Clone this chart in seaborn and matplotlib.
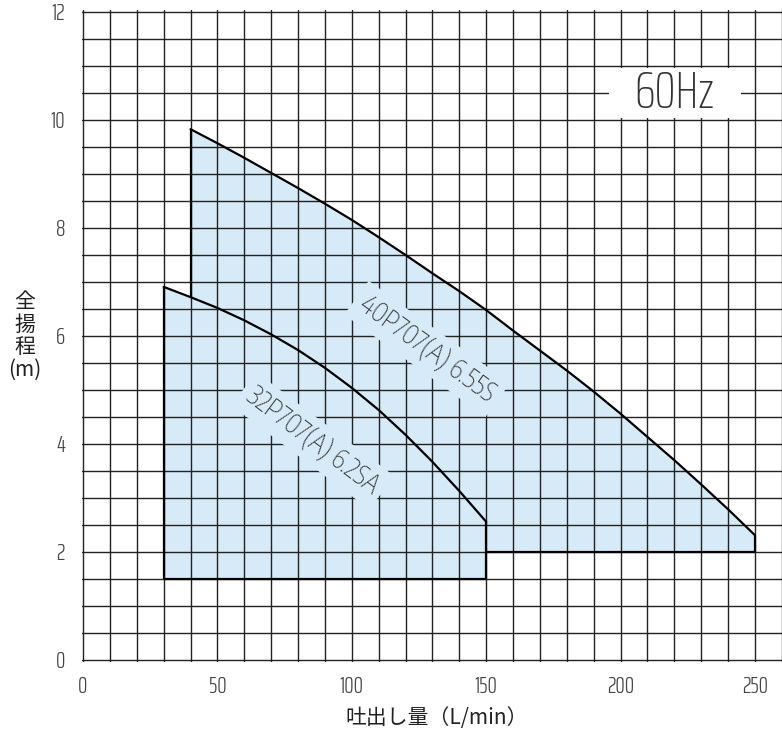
import numpy as np
import pandas as pd
import seaborn as sns
import matplotlib
matplotlib.use("Agg")
import matplotlib.pyplot as plt
from matplotlib.patches import Rectangle

# pump performance ranges (60 Hz)
flow_32 = [30, 40, 50, 60, 70, 80, 90, 100, 110, 120, 130, 140, 150]
head_32 = [6.91, 6.72, 6.52, 6.29, 6.03, 5.74, 5.41, 5.04, 4.63, 4.17, 3.67, 3.13, 2.56]
min_head_32 = 1.5
label_32 = "32P707(A) 6.2SA"

flow_40 = [40, 50, 60, 70, 80, 90, 100, 110, 120, 130, 140, 150,
           160, 170, 180, 190, 200, 210, 220, 230, 240, 250]
head_40 = [9.83, 9.57, 9.30, 9.02, 8.74, 8.45, 8.15, 7.83, 7.50, 7.16, 6.83, 6.48,
           6.10, 5.73, 5.36, 4.97, 4.56, 4.13, 3.70, 3.25, 2.79, 2.31]
min_head_40 = 2.0
label_40 = "40P707(A) 6.55S"

x_ticks = [0, 50, 100, 150, 200, 250]
y_ticks = [0, 2, 4, 6, 8, 10, 12]
freq_label = "60Hz"
x_label = "吐出し量（L/min）"
y_label = "全\n揚\n程\n(m)"

fill_c = "#d6eaf7"
ink = "#222222"

sns.set_style("white")
narrow = ["Saira ExtraCondensed", "Roboto Condensed", "DejaVu Sans"]
label_font = ["Encode Sans Condensed", "Roboto Condensed", "DejaVu Sans"]
cjk = ["Noto Sans CJK JP", "DejaVu Sans"]

W, H = 782, 736
fig = plt.figure(figsize=(W / 100, H / 100), dpi=100)
# axes placed so that x=0 -> 83px, y=0 -> 660px
px_x, px_y = 2.712, 54.0
x0, x1 = -0.5, 257.7
y0, y1 = -0.03, 12.03
left = (83 + x0 * px_x) / W
bottom = (H - (660 - y0 * px_y)) / H
ax = fig.add_axes([left, bottom, (x1 - x0) * px_x / W, (y1 - y0) * px_y / H])
ax.set_xlim(x0, x1)
ax.set_ylim(y0, y1)

df32 = pd.DataFrame({"flow": flow_32, "head": head_32})
df40 = pd.DataFrame({"flow": flow_40, "head": head_40})

ax.fill_between(flow_32, min_head_32, head_32, color=fill_c, lw=0, zorder=1)
ax.fill_between(flow_40, min_head_40, head_40, color=fill_c, lw=0, zorder=1)

# grid
ax.set_xticks(x_ticks)
ax.set_yticks(y_ticks)
ax.set_xticks(np.arange(0, 261, 10), minor=True)
ax.set_yticks(np.arange(0, 12.01, 0.5), minor=True)
ax.set_axisbelow(False)
ax.grid(which="both", color=ink, lw=1.0)
ax.tick_params(which="minor", length=0)
ax.tick_params(which="major", direction="out", length=8, width=1, color=ink,
               labelsize=17, labelcolor="#444444")
ax.tick_params(axis="x", pad=2)
ax.tick_params(axis="y", pad=4)
for lab in ax.get_xticklabels() + ax.get_yticklabels():
    lab.set_fontfamily(narrow)
    lab.set_fontweight(300)
for s in ax.spines.values():
    s.set_visible(False)

# outlines
sns.lineplot(data=df32, x="flow", y="head", color="black", lw=1.6, ax=ax, zorder=5)
sns.lineplot(data=df40, x="flow", y="head", color="black", lw=1.6, ax=ax, zorder=5)
ax.vlines(flow_32[0], min_head_32, head_32[0], color="black", lw=1.6, zorder=5)
ax.vlines(flow_32[-1], min_head_32, head_32[-1], color="black", lw=1.6, zorder=5)
ax.hlines(min_head_32, flow_32[0], flow_32[-1], color="black", lw=1.6, zorder=5)
ax.vlines(flow_40[0], head_32[1], head_40[0], color="black", lw=1.6, zorder=5)
ax.vlines(flow_40[-1], min_head_40, head_40[-1], color="black", lw=1.6, zorder=5)
ax.hlines(min_head_40, flow_32[-1], flow_40[-1], color="black", lw=1.6, zorder=5)
ax.set_xlabel("")
ax.set_ylabel("")

# curve labels
box = dict(facecolor=fill_c, edgecolor="none", pad=5)
ax.text(85.5, 4.06, label_32, rotation=-37, rotation_mode="anchor", ha="center", va="center",
        fontsize=19, family=label_font, fontweight=200, color="#333333", bbox=box, zorder=4)
ax.text(128, 5.76, label_40, rotation=-36, rotation_mode="anchor", ha="center", va="center",
        fontsize=19, family=label_font, fontweight=200, color="#333333", bbox=box, zorder=4)

# frequency tag
ax.add_patch(Rectangle((195.5, 10.03), 49.3, 0.94, facecolor="white", edgecolor="none", zorder=4))
ax.text(220, 10.5, freq_label, ha="center", va="center", fontsize=38, family=narrow,
        fontweight=250, color="#333333", zorder=5)

fig.text(25 / W, 1 - 336 / H, y_label, ha="center", va="center", fontsize=15,
         family=cjk, linespacing=1.05, color="#222222")
fig.text(437 / W, 1 - 718 / H, x_label, ha="center", va="center", fontsize=15,
         family=cjk, color="#222222")

fig.savefig("out.png", dpi=100)
